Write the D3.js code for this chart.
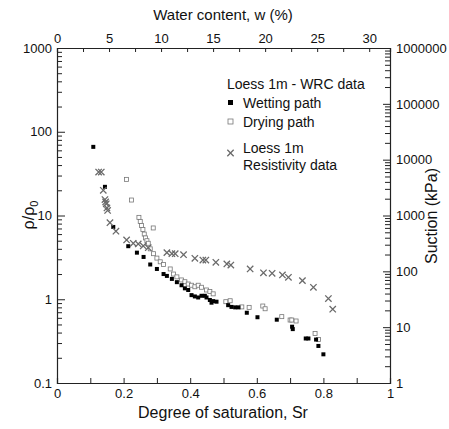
<!DOCTYPE html>
<html>
<head>
<meta charset="utf-8">
<script src="https://cdn.jsdelivr.net/npm/d3@7"></script>
<style>
  body { margin: 0; background: #fff; }
  svg text { font-family: "Liberation Sans", Arial, sans-serif; fill: #111; }
</style>
</head>
<body>
<svg id="chart" width="449" height="429"></svg>
<script>
// wetting path (filled squares) [Sr, rho/rho0]
let wetting = [
  [0.109, 66], [0.144, 22], [0.169, 7.3], [0.214, 4.3],
  [0.24, 3.6], [0.26, 3.2], [0.28, 2.6], [0.30, 2.3], [0.32, 2.0], [0.33, 1.9],
  [0.345, 1.75], [0.36, 1.6], [0.374, 1.47], [0.384, 1.35], [0.394, 1.29],
  [0.404, 1.12], [0.414, 1.08], [0.424, 1.05], [0.434, 1.10], [0.444, 1.10],
  [0.449, 1.05], [0.459, 0.98], [0.464, 0.91], [0.469, 0.95], [0.479, 0.935],
  [0.514, 0.85], [0.524, 0.81], [0.535, 0.80], [0.545, 0.80], [0.570, 0.69],
  [0.602, 0.61], [0.66, 0.57], [0.706, 0.47], [0.708, 0.44], [0.747, 0.34],
  [0.755, 0.34], [0.778, 0.33], [0.785, 0.277], [0.80, 0.22]
]

// drying path (open squares)
let drying = [
  [0.209, 27], [0.224, 15.3], [0.246, 9.5], [0.25, 8.5], [0.254, 7.6], [0.258, 6.8],
  [0.262, 6.0], [0.266, 5.4], [0.270, 5.0], [0.274, 4.66], [0.289, 7.1],
  [0.28, 4.0], [0.29, 3.5], [0.30, 3.1], [0.31, 2.8], [0.32, 2.6], [0.34, 2.3],
  [0.35, 2.0], [0.36, 1.85], [0.374, 1.70], [0.384, 1.62], [0.394, 1.52],
  [0.404, 1.47], [0.414, 1.41], [0.424, 1.47], [0.434, 1.39], [0.449, 1.29],
  [0.459, 1.24], [0.469, 1.16], [0.507, 0.935], [0.520, 0.96], [0.555, 0.81],
  [0.577, 0.80], [0.618, 0.83], [0.625, 0.77], [0.675, 0.62], [0.70, 0.565],
  [0.705, 0.565], [0.718, 0.55], [0.775, 0.39], [0.785, 0.33]
]

// resistivity data (crosses)
let resistivity = [
  [0.125, 33], [0.133, 33], [0.139, 20], [0.144, 15.5], [0.146, 14.5], [0.148, 13.8],
  [0.150, 12.3], [0.152, 11.5], [0.159, 8.2], [0.177, 6.5], [0.209, 5.1],
  [0.229, 4.66], [0.244, 4.57], [0.259, 4.33], [0.274, 4.13],
  [0.33, 3.6], [0.345, 3.5], [0.355, 3.5], [0.38, 3.4],
  [0.414, 3.08], [0.438, 2.94], [0.447, 2.94], [0.477, 2.76], [0.510, 2.64],
  [0.522, 2.56], [0.580, 2.30], [0.620, 2.07], [0.646, 2.04], [0.677, 1.95],
  [0.695, 1.83], [0.737, 1.67], [0.770, 1.39], [0.815, 1.02], [0.828, 0.76]
]

let srTicks = d3.range(0, 1.0001, 0.1)
let wTicks = d3.range(0, 32.1, 2.5)
let rhoTicks = [0.1, 1, 10, 100, 1000]
let suctionTicks = [1, 10, 100, 1000, 10000, 100000, 1000000]

let svg = d3.select('#chart')
let mLeft = 57, mRight = 390, mTop = 48, mBottom = 383

let x = d3.scaleLinear().domain([0, 1]).range([mLeft, mRight])
let xTop = d3.scaleLinear().domain([0, 32]).range([mLeft, mRight])
let y = d3.scaleLog().domain([0.1, 1000]).range([mBottom, mTop])
let yR = d3.scaleLog().domain([1, 1000000]).range([mBottom, mTop])

// minor log ticks
function minors(lo, hi) {
  let out = []
  for (let p = lo; p < hi; p *= 10) {
    for (let k = 2; k <= 9; k++) out.push(p * k)
  }
  return out
}

// bottom axis
svg.append('g').attr('transform', `translate(0,${mBottom})`)
  .call(d3.axisBottom(x).tickValues(srTicks).tickSize(-5).tickPadding(6)
    .tickFormat((d, i) => i % 2 == 0 ? d3.format('~g')(d) : ''))

// top axis
svg.append('g').attr('transform', `translate(0,${mTop})`)
  .call(d3.axisTop(xTop).tickValues(wTicks).tickSize(-4).tickPadding(5)
    .tickFormat((d) => d % 5 == 0 ? d : ''))

// left axis
let gl = svg.append('g').attr('transform', `translate(${mLeft},0)`)
gl.call(d3.axisLeft(y).tickValues(minors(0.1, 1000)).tickSize(-5).tickFormat(''))
gl.call(g => g.select('.domain').remove())
svg.append('g').attr('transform', `translate(${mLeft},0)`)
  .call(d3.axisLeft(y).tickValues(rhoTicks).tickSize(-8).tickPadding(5).tickFormat(d3.format('~g')))

// right axis
let gr = svg.append('g').attr('transform', `translate(${mRight},0)`)
gr.call(d3.axisRight(yR).tickValues(minors(1, 1000000)).tickSize(-5).tickFormat(''))
gr.call(g => g.select('.domain').remove())
svg.append('g').attr('transform', `translate(${mRight},0)`)
  .call(d3.axisRight(yR).tickValues(suctionTicks).tickSize(-7).tickPadding(6).tickFormat(d3.format('d')))

svg.selectAll('.domain').attr('stroke', '#222').attr('stroke-width', 1.2)
svg.selectAll('.tick line').attr('stroke', '#222')
svg.selectAll('.tick text').style('font-size', '13px').attr('fill', '#111')

// axis titles
svg.append('text').attr('x', 223).attr('y', 20).attr('text-anchor', 'middle')
  .style('font-size', '15px').text('Water content, w (%)')
svg.append('text').attr('x', 223).attr('y', 418).attr('text-anchor', 'middle')
  .style('font-size', '16px').text('Degree of saturation, Sr')

let rl = svg.append('text').attr('transform', 'translate(34,215) rotate(-90)')
  .attr('text-anchor', 'middle').style('font-size', '16px')
rl.append('tspan').text('ρ/ρ')
rl.append('tspan').attr('dy', 4).style('font-size', '11px').text('0')

svg.append('text').attr('transform', 'translate(437,216) rotate(-90)')
  .attr('text-anchor', 'middle').style('font-size', '16px').text('Suction (kPa)')

// data marks
let plot = svg.append('g')

plot.selectAll('.dry').data(drying).join('rect')
  .attr('class', 'dry')
  .attr('x', d => x(d[0]) - 2).attr('y', d => y(d[1]) - 2)
  .attr('width', 4).attr('height', 4)
  .style('fill', '#fff').style('stroke', '#777').style('stroke-width', 0.8)

plot.selectAll('.wet').data(wetting).join('rect')
  .attr('class', 'wet')
  .attr('x', d => x(d[0]) - 2).attr('y', d => y(d[1]) - 2)
  .attr('width', 4).attr('height', 4)
  .style('fill', '#000')

let cross = d3.symbol().type(d3.symbolX).size(28)
plot.selectAll('.res').data(resistivity).join('path')
  .attr('class', 'res')
  .attr('transform', d => `translate(${x(d[0])},${y(d[1])})`)
  .attr('d', cross)
  .style('fill', 'none').style('stroke', '#6a6a6a').style('stroke-width', 1.3)

// legend
let lg = svg.append('g').style('font-size', '14px')
lg.append('text').attr('x', 227).attr('y', 89).text('Loess 1m - WRC data')
lg.append('rect').attr('x', 228).attr('y', 100).attr('width', 5).attr('height', 5).style('fill', '#000')
lg.append('text').attr('x', 243).attr('y', 108).text('Wetting path')
lg.append('rect').attr('x', 228).attr('y', 119).attr('width', 5).attr('height', 5)
  .style('fill', '#fff').style('stroke', '#777').style('stroke-width', 0.8)
lg.append('text').attr('x', 243).attr('y', 127).text('Drying path')
lg.append('path').attr('transform', 'translate(230.5,153)').attr('d', cross)
  .style('fill', 'none').style('stroke', '#6a6a6a').style('stroke-width', 1.3)
lg.append('text').attr('x', 243).attr('y', 153).text('Loess 1m')
lg.append('text').attr('x', 243).attr('y', 170).text('Resistivity data')
</script>
</body>
</html>
